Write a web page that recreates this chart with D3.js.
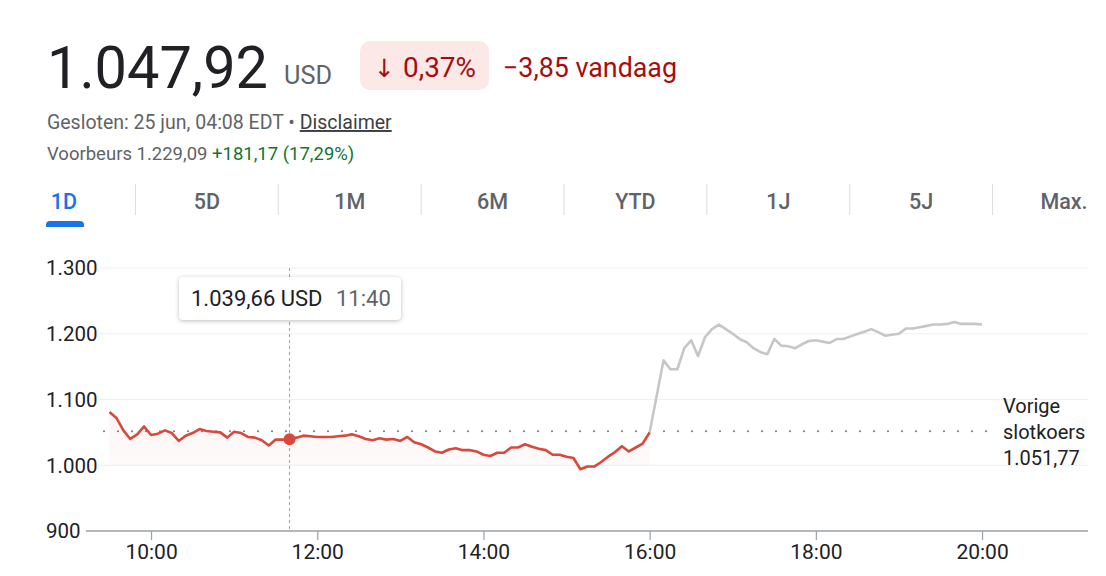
<!DOCTYPE html>
<html>
<head>
<meta charset="utf-8">
<script src="https://cdn.jsdelivr.net/npm/d3@7"></script>
<style>
  html, body { margin: 0; padding: 0; background: #fff; }
  svg { display: block; font-family: Roboto, "Noto Sans", Arial, sans-serif; }
</style>
</head>
<body>
<svg id="chart" width="1106" height="576"></svg>
<script>
// ---------- DATA ----------
const priceTitle = "1.047,92";
const currency = "USD";
const changeArrow = "↓";
const changePct = "0,37%";
const changeAbs = "−3,85 vandaag";
const closedLine = "Gesloten: 25 jun, 04:08 EDT • ";
const disclaimer = "Disclaimer";
const preMarketLabel = "Voorbeurs 1.229,09 ";
const preMarketChange = "+181,17 (17,29%)";
const tabs = ["1D", "5D", "1M", "6M", "YTD", "1J", "5J", "Max."];
const yTicks = [900, 1000, 1100, 1200, 1300];
const yTickLabels = ["900", "1.000", "1.100", "1.200", "1.300"];
const xTicks = ["10:00", "12:00", "14:00", "16:00", "18:00", "20:00"];
const previousClose = 1051.77;
const previousCloseLabel = ["Vorige", "slotkoers", "1.051,77"];

// regular session, 5-minute steps from 09:30 to 16:00
const regularStart = "09:30";
const regularValues = [
  1081, 1072, 1053, 1040, 1047, 1059, 1046, 1048, 1053, 1049,
  1037, 1045, 1049, 1055, 1052, 1051, 1050, 1042, 1051, 1049,
  1043, 1042, 1038, 1030, 1039, 1039, 1039.66, 1042, 1045, 1044,
  1043, 1043, 1043, 1044, 1045, 1047, 1044, 1040, 1038, 1041,
  1039, 1040, 1037, 1043, 1035, 1032, 1027, 1021, 1019, 1024,
  1026, 1023, 1023, 1021, 1016, 1014, 1019, 1019, 1027, 1027,
  1032, 1028, 1025, 1023, 1016, 1016, 1013, 1011, 994, 998,
  998, 1005, 1013, 1020, 1029, 1021, 1027, 1033, 1050
];
// after hours: 16:00, then 5-minute steps from 16:10 to 20:00
const afterHoursTimes = ["16:00"].concat(d3.range(16 * 60 + 10, 20 * 60 + 1, 5)
  .map(m => String(Math.floor(m / 60)).padStart(2, "0") + ":" + String(m % 60).padStart(2, "0")));
const afterHoursValues = [
  1050, 1159.5, 1146, 1146, 1178, 1190, 1166, 1195, 1207, 1214,
  1207, 1200, 1192, 1187, 1178, 1172, 1169, 1192, 1182, 1181,
  1178, 1184, 1189, 1190, 1188, 1186, 1192, 1192, 1196, 1199.5,
  1203, 1207, 1202.5, 1197, 1198.5, 1200, 1208, 1208, 1210, 1212,
  1214, 1214, 1215, 1218, 1215, 1215, 1215, 1214
];
const tooltipValue = "1.039,66 USD";
const tooltipTime = "11:40";

// ---------- HELPERS ----------
const toMin = t => { const [h, m] = t.split(":").map(Number); return h * 60 + m; };
const regularTimes = regularValues.map((v, i) => toMin(regularStart) + i * 5);
const regular = regularValues.map((v, i) => ({ t: regularTimes[i], v }));
const after = afterHoursValues.map((v, i) => ({ t: toMin(afterHoursTimes[i]), v }));

const svg = d3.select("#chart");
const RED = "#d9483b", DARK = "#202124", GREY = "#5f6368", NEG = "#a50e0e";

function txt(parent, x, y, size, fill, str, len, extra) {
  const t = parent.append("text").attr("x", x).attr("y", y).attr("font-size", size)
    .attr("fill", fill).text(str);
  if (len) t.attr("textLength", len).attr("lengthAdjust", "spacingAndGlyphs");
  if (extra) extra(t);
  return t;
}

// ---------- HEADER ----------
txt(svg, 47, 88, 59, DARK, priceTitle, 221);
txt(svg, 284, 84, 25, GREY, currency, 48);
svg.append("rect").attr("x", 360).attr("y", 41).attr("width", 129).attr("height", 49).attr("rx", 10)
  .attr("fill", "#fce8e6");
txt(svg, 374, 77, 25, NEG, changeArrow, null, t => t.attr("font-family", "DejaVu Sans"));
txt(svg, 403, 77, 27, NEG, changePct, 73);
txt(svg, 503, 77, 27, NEG, changeAbs, 174);

const l1 = svg.append("text").attr("x", 47).attr("y", 129).attr("font-size", 19.5).attr("fill", GREY);
l1.append("tspan").text(closedLine);
l1.append("tspan").attr("fill", "#3c4043").attr("text-decoration", "underline").text(disclaimer);
const l2 = svg.append("text").attr("x", 47).attr("y", 160).attr("font-size", 18.5).attr("fill", GREY);
l2.append("tspan").text(preMarketLabel);
l2.append("tspan").attr("fill", "#137333").text(preMarketChange);

// ---------- TABS ----------
const tabX = d3.scalePoint().domain(tabs).range([64, 1064]);
tabs.forEach((t, i) => {
  svg.append("text").attr("x", tabX(t)).attr("y", 209).attr("text-anchor", "middle")
    .attr("font-size", 21.5).attr("font-weight", 500)
    .attr("fill", i === 0 ? "#1a73e8" : GREY).text(t);
  if (i > 0) {
    const sx = (tabX(tabs[i - 1]) + tabX(t)) / 2;
    svg.append("line").attr("x1", sx).attr("x2", sx).attr("y1", 184).attr("y2", 215)
      .attr("stroke", "#dadce0").attr("stroke-width", 1);
  }
});
svg.append("path").attr("d", "M46,227 L46,225 Q46,221 50,221 L80,221 Q84,221 84,225 L84,227 Z")
  .attr("fill", "#1a73e8");

// ---------- SCALES ----------
const x = d3.scaleLinear().domain([570, 1277]).range([109.5, 1088.7]);
const y = d3.scaleLinear().domain([900, 1300]).range([531, 268]);

// gridlines
svg.append("g").selectAll("line").data(yTicks.slice(1)).join("line")
  .attr("x1", 100).attr("x2", 1088).attr("y1", d => y(d)).attr("y2", d => y(d))
  .attr("stroke", "#eceff1").attr("stroke-width", 1);

// y labels
svg.append("g").selectAll("text").data(yTicks).join("text")
  .attr("x", 46).attr("y", d => y(d)).attr("dy", "0.36em")
  .attr("font-size", 20.5).attr("fill", DARK)
  .text((d, i) => yTickLabels[i]);

// area fill under regular session
const grad = svg.append("defs").append("linearGradient").attr("id", "fillGrad")
  .attr("gradientUnits", "userSpaceOnUse").attr("x1", 0).attr("x2", 0)
  .attr("y1", y(1080)).attr("y2", y(990));
grad.append("stop").attr("offset", 0).attr("stop-color", RED).attr("stop-opacity", 0.06);
grad.append("stop").attr("offset", 1).attr("stop-color", RED).attr("stop-opacity", 0.02);
svg.append("path").datum(regular)
  .attr("d", d3.area().x(d => x(d.t)).y0(y(1000)).y1(d => y(d.v)))
  .attr("fill", "url(#fillGrad)");

// vertical hover line
const hoverT = toMin(tooltipTime);
svg.append("line").attr("x1", x(hoverT)).attr("x2", x(hoverT)).attr("y1", 268).attr("y2", 531)
  .attr("stroke", "#9aa0a6").attr("stroke-width", 1).attr("stroke-dasharray", "3,3");

// previous close dotted line
svg.append("line").attr("x1", 104).attr("x2", 996)
  .attr("y1", y(previousClose)).attr("y2", y(previousClose))
  .attr("stroke", "#70757a").attr("stroke-width", 2).attr("stroke-linecap", "round")
  .attr("stroke-dasharray", "0,14");

// lines
const line = d3.line().x(d => x(d.t)).y(d => y(d.v));
svg.append("path").datum(after).attr("d", line).attr("fill", "none")
  .attr("stroke", "#c6c6c6").attr("stroke-width", 2.6).attr("stroke-linejoin", "round");
svg.append("path").datum(regular).attr("d", line).attr("fill", "none")
  .attr("stroke", RED).attr("stroke-width", 2.6).attr("stroke-linejoin", "round");

// hover dot
const hv = regular.find(d => d.t === hoverT);
svg.append("circle").attr("cx", x(hv.t)).attr("cy", y(hv.v)).attr("r", 6).attr("fill", RED);

// x axis
svg.append("line").attr("x1", 86).attr("x2", 1088).attr("y1", y(900)).attr("y2", y(900))
  .attr("stroke", "#9aa0a6").attr("stroke-width", 1.5);
const xAxis = d3.axisBottom(x).tickValues(xTicks.map(toMin))
  .tickFormat((d, i) => xTicks[i]).tickSize(9).tickPadding(4);
const gx = svg.append("g").attr("transform", `translate(0,${y(900)})`).call(xAxis);
gx.select(".domain").remove();
gx.selectAll(".tick line").attr("stroke", "#9aa0a6").attr("stroke-width", 1.2);
gx.selectAll(".tick text").attr("font-size", 21).attr("fill", DARK)
  .attr("font-family", "Roboto, 'Noto Sans', Arial, sans-serif");

// previous close label
previousCloseLabel.forEach((d, i) => txt(svg, 1003, 413 + i * 26, 20, DARK, d));

// tooltip
const tip = svg.append("g");
tip.append("rect").attr("x", 179).attr("y", 277).attr("width", 222).attr("height", 43).attr("rx", 4)
  .attr("fill", "#fff").style("filter", "drop-shadow(0px 1px 2px rgba(60,64,67,0.35))");
txt(tip, 191, 306, 22, DARK, tooltipValue);
txt(tip, 336, 306, 22, GREY, tooltipTime);
</script>
</body>
</html>
